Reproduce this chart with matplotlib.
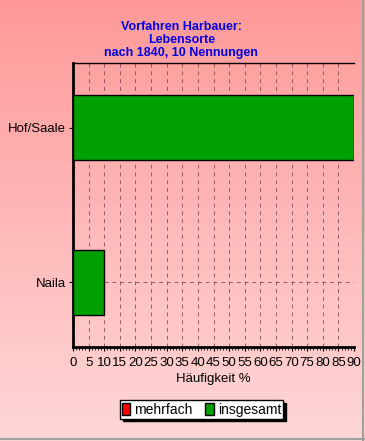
import matplotlib
matplotlib.use('Agg')
import matplotlib.pyplot as plt
import numpy as np
from matplotlib.patches import Patch
from matplotlib.ticker import MultipleLocator

orte = ['Naila', 'Hof/Saale']
mehrfach = [0, 0]
insgesamt = [10, 90]
titel = 'Vorfahren Harbauer:\nLebensorte\nnach 1840, 10 Nennungen'

plt.rcParams['font.family'] = ['Liberation Sans', 'DejaVu Sans']

fig = plt.figure(figsize=(3.65, 4.41), dpi=100)

# Hintergrund mit Farbverlauf
bg = fig.add_axes([0, 0, 1, 1], zorder=-10)
grad = np.linspace(0, 1, 256).reshape(-1, 1)
farben = np.zeros((256, 1, 3))
farben[..., 0] = 1.0
farben[..., 1] = (153 + (215 - 153) * grad) / 255
farben[..., 2] = (153 + (215 - 153) * grad) / 255
bg.imshow(farben, aspect='auto', extent=[0, 1, 0, 1])
bg.plot([0.995, 0.995], [0, 1], color='#a0a0a0', lw=1.5)
bg.plot([0, 1], [0.004, 0.004], color='#a0a0a0', lw=1.5)
bg.set_xlim(0, 1)
bg.set_ylim(0, 1)
bg.axis('off')

ax = fig.add_axes([0.2, 0.2132, 0.7699, 0.6438])
ax.set_facecolor('none')
y = np.arange(len(orte))
ax.barh(y, mehrfach, height=0.42, color='#ff0000', edgecolor='black', lw=1, zorder=3)
ax.barh(y, insgesamt, height=0.42, color='#00a000', edgecolor='black', lw=1, zorder=3)

ax.set_xlim(0, 90)
ax.set_ylim(-0.42, 1.42)
ax.set_yticks(y)
ax.set_yticklabels(orte, fontsize=9.5)
ax.set_xticks(np.arange(0, 91, 5))
ax.xaxis.set_minor_locator(MultipleLocator(1))
ax.tick_params(axis='x', which='major', labelsize=9.5, length=3, pad=4)
ax.tick_params(axis='x', which='minor', length=2)
ax.tick_params(axis='y', length=3, labelsize=9.5, pad=2)
ax.grid(True, which='major', color='#8a6060', ls=(0, (4, 4)), lw=0.7, zorder=1)

for s in ['left', 'bottom']:
    ax.spines[s].set_linewidth(2)
ax.spines['top'].set_linewidth(1)
ax.spines['right'].set_visible(False)

ax.set_xlabel('Häufigkeit %', fontsize=9.5, labelpad=3)
fig.text(0.497, 0.952, titel, ha='center', va='top', color='#0000e0',
         fontsize=9, fontweight='bold', linespacing=1.1)

leg = fig.legend(handles=[Patch(facecolor='#ff0000', edgecolor='black', label='mehrfach'),
                          Patch(facecolor='#00a000', edgecolor='black', label='insgesamt')],
                 loc='center', bbox_to_anchor=(0.552, 0.0714), ncol=2, fontsize=10,
                 fancybox=False, shadow={'color': 'black', 'alpha': 1}, framealpha=1,
                 edgecolor='black', handlelength=0.6, handleheight=1.0,
                 handletextpad=0.3, columnspacing=0.9, borderpad=0.15, borderaxespad=0)
leg.get_frame().set_linewidth(1)

fig.savefig('out.png', dpi=100)
